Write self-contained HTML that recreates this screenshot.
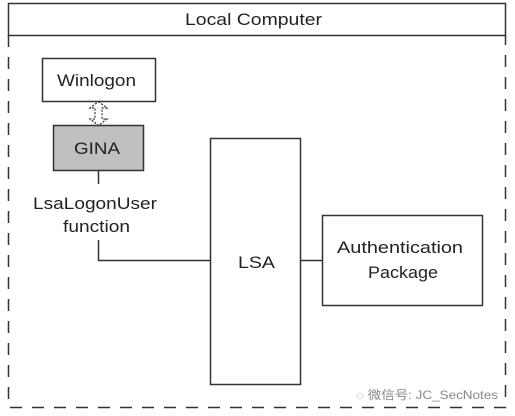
<!DOCTYPE html>
<html><head><meta charset="utf-8"><style>
html,body{margin:0;padding:0;background:#fff;}
svg{display:block}
text{font-family:"Liberation Sans",Arial,sans-serif;fill:#222}
</style></head><body>
<svg width="515" height="416" viewBox="0 0 515 416" xmlns="http://www.w3.org/2000/svg">
<g stroke="#333" stroke-width="1.5" fill="none">
<path d="M8.5 35 V407.5 H505.5 V35" stroke-dasharray="12,10"/>
<rect x="8.5" y="3.5" width="497" height="32"/>
<rect x="42.5" y="58.5" width="113" height="43"/>
<rect x="53.5" y="125.5" width="90" height="45" fill="#c0c0c0"/>
<rect x="210.5" y="138.5" width="90" height="246"/>
<rect x="322.5" y="215.5" width="160" height="90"/>
<path d="M98.5 171 V184 M98.5 240 V260.5 H210 M301 260.5 H322"/>
<path d="M98.5 101.5 L107 108 H102 V119 H107 L98.5 125.5 L90 119 H95 V108 H90 Z" stroke-width="1.2" stroke-dasharray="2,1.5"/>
</g>
<g font-size="17">
<text x="185" y="25" textLength="137" lengthAdjust="spacingAndGlyphs">Local Computer</text>
<text x="57" y="86" textLength="79" lengthAdjust="spacingAndGlyphs">Winlogon</text>
<text x="74" y="154" textLength="46" lengthAdjust="spacingAndGlyphs">GINA</text>
<text x="33" y="209" textLength="124" lengthAdjust="spacingAndGlyphs">LsaLogonUser</text>
<text x="63" y="232" textLength="67" lengthAdjust="spacingAndGlyphs">function</text>
<text x="238" y="268" textLength="37" lengthAdjust="spacingAndGlyphs">LSA</text>
<text x="337" y="253" textLength="126" lengthAdjust="spacingAndGlyphs">Authentication</text>
<text x="368" y="278" textLength="70" lengthAdjust="spacingAndGlyphs">Package</text>
</g>
<text x="356" y="399" font-size="12" textLength="142" lengthAdjust="spacingAndGlyphs" style="font-family:'Liberation Sans','Noto Sans CJK SC',sans-serif;fill:#888">◌ 微信号: JC_SecNotes</text>
</svg>
</body></html>
